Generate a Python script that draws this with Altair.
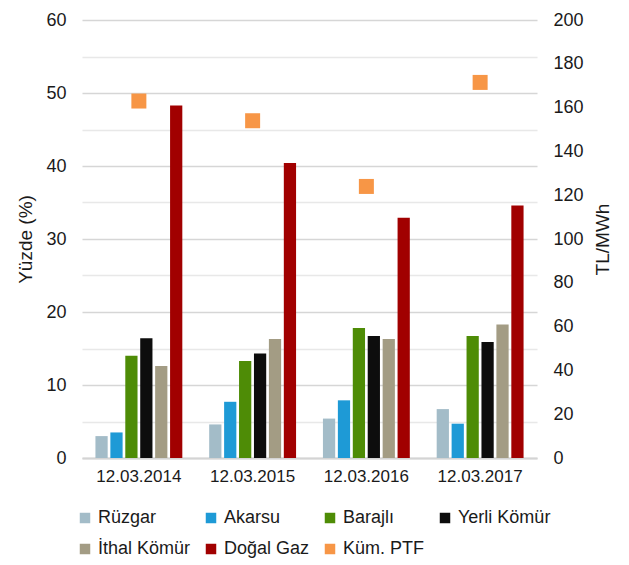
import altair as alt
import pandas as pd

dates = ["12.03.2014", "12.03.2015", "12.03.2016", "12.03.2017"]
sources = ["Rüzgar", "Akarsu", "Barajlı", "Yerli Kömür", "İthal Kömür", "Doğal Gaz"]
ruzgar = [3.0, 4.6, 5.4, 6.7]
akarsu = [3.5, 7.7, 7.9, 4.7]
barajli = [14.0, 13.3, 17.8, 16.7]
yerli = [16.4, 14.3, 16.7, 15.9]
ithal = [12.6, 16.3, 16.3, 18.3]
dogal = [48.3, 40.4, 32.9, 34.6]
ptf = [163.0, 154.0, 124.0, 171.5]
ptf_name = "Küm. PTF"

colors = ["#a3bcc8", "#1e9ad6", "#4e8c06", "#0d0d0d", "#a39c84", "#a10000", "#f79646"]
all_names = sources + [ptf_name]

series = [ruzgar, akarsu, barajli, yerli, ithal, dogal]
rows = []
for name, vals in zip(sources, series):
    for d, v in zip(dates, vals):
        rows.append({"Tarih": d, "Kaynak": name, "Değer": v})
df_bars = pd.DataFrame(rows)
df_ptf = pd.DataFrame({"Tarih": dates, "Kaynak": [ptf_name] * 4, "PTF": ptf})

FONT = "Liberation Sans"
TXT = "#1a1a1a"

color_enc = alt.Color(
    "Kaynak:N",
    sort=all_names,
    scale=alt.Scale(domain=all_names, range=colors),
    legend=alt.Legend(
        title=None,
        orient="none",
        direction="horizontal",
        legendX=-6,
        legendY=489,
        columns=4,
        symbolType="square",
        symbolSize=110,
        symbolStrokeWidth=0,
        labelFontSize=18,
        labelFont=FONT,
        labelColor=TXT,
        columnPadding=11,
        rowPadding=13,
        labelOffset=4,
    ),
)

x_enc = alt.X(
    "Tarih:N",
    sort=dates,
    scale=alt.Scale(paddingInner=0.21, paddingOuter=0.105),
    axis=alt.Axis(
        title=None,
        labelAngle=0,
        labelFontSize=17,
        labelFont=FONT,
        labelColor=TXT,
        labelPadding=10,
        ticks=False,
        tickSize=0,
        domain=True,
        domainColor="#d4d4d4",
        domainWidth=2,
        grid=False,
    ),
)

bars = alt.Chart(df_bars).mark_bar().encode(
    x=x_enc,
    xOffset=alt.XOffset("Kaynak:N", sort=sources,
                        scale=alt.Scale(domain=sources, paddingInner=0.18, paddingOuter=0.1)),
    y=alt.Y(
        "Değer:Q",
        scale=alt.Scale(domain=[0, 60], nice=False),
        axis=alt.Axis(
            title="Yüzde (%)",
            titleFontSize=19,
            titleFont=FONT,
            titleFontWeight="normal",
            titleColor=TXT,
            titlePadding=10,
            values=list(range(0, 61, 5)),
            labelExpr="datum.value % 10 === 0 ? datum.label : ''",
            labelFontSize=18,
            labelFont=FONT,
            labelColor=TXT,
            labelPadding=16,
            ticks=False,
            tickSize=0,
            domain=False,
            grid=True,
            gridColor={"condition": {"test": "datum.value % 10 === 0", "value": "#d6d6d6"},
                       "value": "#e8e8e8"},
            gridWidth=1.5,
        ),
    ),
    color=color_enc,
)

points = alt.Chart(df_ptf).mark_square(size=225, opacity=1, filled=True).encode(
    x=alt.X("Tarih:N", sort=dates),
    y=alt.Y(
        "PTF:Q",
        scale=alt.Scale(domain=[0, 200], nice=False),
        axis=alt.Axis(
            orient="right",
            title="TL/MWh",
            titleAngle=270,
            titleBaseline="top",
            titleFontSize=19,
            titleFont=FONT,
            titleFontWeight="normal",
            titleColor=TXT,
            titlePadding=10,
            values=list(range(0, 201, 20)),
            labelFontSize=18,
            labelFont=FONT,
            labelColor=TXT,
            labelPadding=16,
            ticks=False,
            tickSize=0,
            domain=False,
            grid=False,
        ),
    ),
    color=alt.Color("Kaynak:N", sort=all_names,
                    scale=alt.Scale(domain=all_names, range=colors)),
)

chart = (
    alt.layer(bars, points)
    .resolve_scale(y="independent")
    .properties(
        width=455,
        height=438,
        autosize=alt.AutoSizeParams(type="none"),
        padding={"left": 74, "top": 12, "right": 80, "bottom": 104},
        background="white",
    )
    .configure_view(stroke=None)
)

chart.save("out.html", embed_options={"renderer": "svg", "actions": False})
